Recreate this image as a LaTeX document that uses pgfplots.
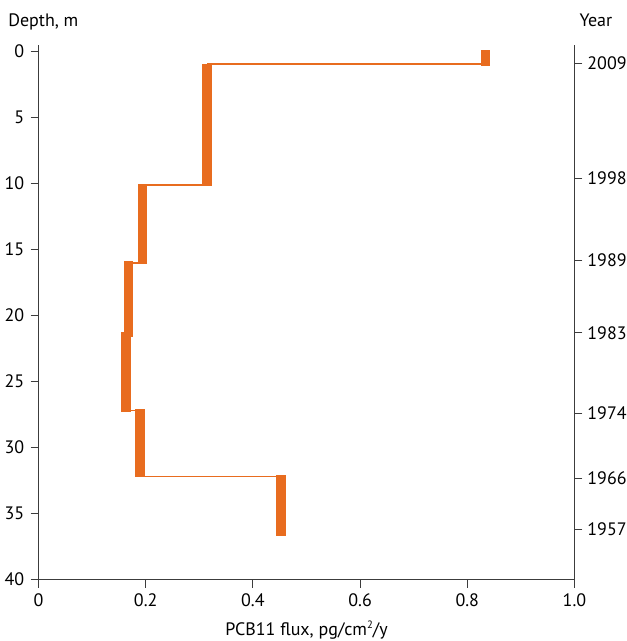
\documentclass[border=0pt]{standalone}
\usepackage{pgfplots}
\pgfplotsset{compat=1.18}
\usepackage{pgfplotstable}
\usepackage{fontspec}
\setmainfont{PT Sans}

\definecolor{fluxorange}{RGB}{232,108,31}
\definecolor{axisgray}{RGB}{60,60,60}

% Flux in each core section: thick segments span the section's depth range
\pgfplotstableread{
flux   depth
0.834  -0.1
0.834  1.1
nan    nan
0.314  0.95
0.314  10.2
nan    nan
0.194  10.05
0.194  16.1
nan    nan
0.168  15.86
0.168  21.6
nan    nan
0.163  21.2
0.163  27.3
nan    nan
0.189  27.07
0.189  32.25
nan    nan
0.452  32.1
0.452  36.7
}\sections

% Thin steps joining neighbouring sections
\pgfplotstableread{
flux   depth
0.834  0.95
0.314  0.95
nan    nan
0.314  10.1
0.194  10.1
nan    nan
0.194  16.0
0.168  16.0
nan    nan
0.168  21.4
0.163  21.4
nan    nan
0.163  27.2
0.189  27.2
nan    nan
0.189  32.2
0.452  32.2
}\steps

\newcommand{\labelfont}{\fontsize{13.5}{15}\selectfont}

\begin{document}
\labelfont
\begin{tikzpicture}
\pgfplotsset{
  common/.style={
    width=402pt, height=401pt, scale only axis,
    xmin=0, xmax=1, ymin=-0.5, ymax=40,
    y dir=reverse,
    tick align=outside,
    major tick length=6pt,
    axis line style={line width=0.9pt, color=axisgray},
    every tick/.style={line width=0.8pt, color=axisgray},
    tick label style={font=\labelfont},
    label style={font=\labelfont},
    /pgf/number format/assume math mode=true,
  },
}
\begin{axis}[
  common, name=main,
  axis x line*=bottom, axis y line*=left,
  xtick={0,0.2,0.4,0.6,0.8,1.0},
  xticklabels={0,0.2,0.4,0.6,0.8,1.0},
  ytick={0,5,...,40},
  xlabel={PCB11 flux, pg/cm\raisebox{0.75ex}{\fontsize{8}{9}\selectfont 2}/y},
  xlabel style={at={(axis description cs:0.5,0)}, anchor=base, yshift=-41.5pt},
  ylabel={Depth, m},
  ylabel style={rotate=-90, at={(axis description cs:0,1)}, anchor=base west,
                inner sep=0pt, xshift=-22.9pt, yshift=14.3pt},
  unbounded coords=jump,
]
  \addplot[fluxorange, line width=1.1pt, line cap=butt] table[x=flux, y=depth] {\steps};
  \addplot[fluxorange, line width=7.1pt, line cap=butt] table[x=flux, y=depth] {\sections};
\end{axis}
\begin{axis}[
  common,
  axis x line=none, axis y line*=right,
  ytick={0.88,9.6,15.8,21.3,27.4,32.3,36.2},
  yticklabels={2009,1998,1989,1983,1974,1966,1957},
  yticklabel style={xshift=-1pt},
  ylabel={Year},
  ylabel style={rotate=-90, at={(axis description cs:1,1)}, anchor=base west,
                inner sep=0pt, xshift=3.6pt, yshift=14.3pt},
]
\end{axis}
\pgfresetboundingbox
\path ([shift={(-28.9pt,-46pt)}]main.south west) rectangle ([shift={(39.4pt,33.8pt)}]main.north east);
\end{tikzpicture}
\end{document}
